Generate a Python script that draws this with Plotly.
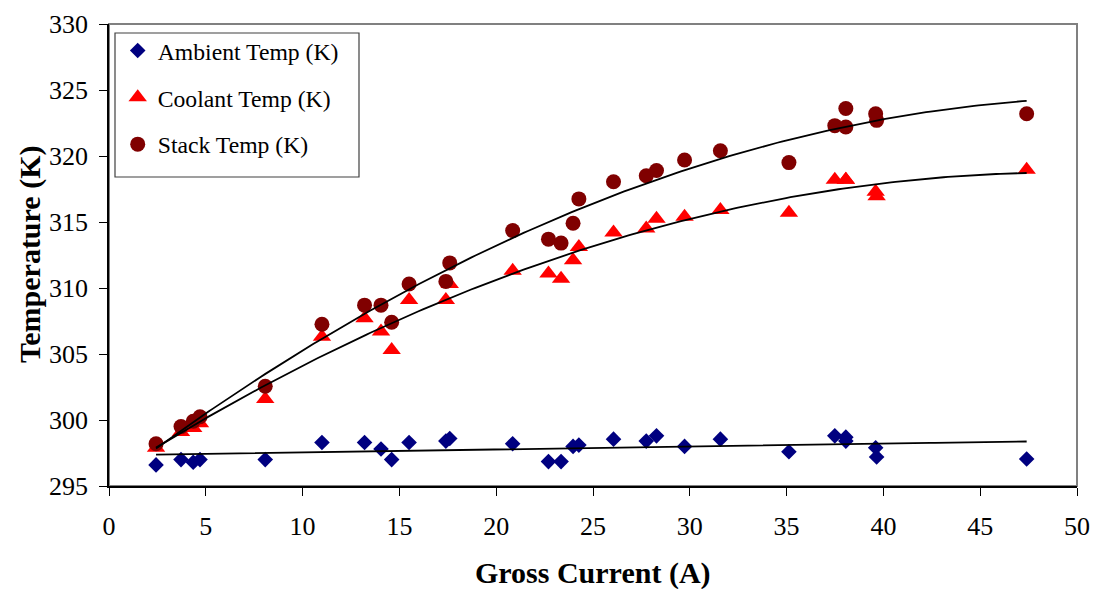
import numpy as np
import plotly.graph_objects as go

# Gross stack current (A) for each logged operating point
current = [2.43, 3.72, 4.35, 4.7, 8.07, 11.0, 13.2, 14.05, 14.6, 15.5, 17.4, 17.6,
           20.85, 22.7, 23.35, 23.97, 24.27, 26.06, 27.75, 28.28, 29.73, 31.58,
           35.12, 37.49, 38.06, 38.06, 39.6, 39.65, 47.4]

# Measured temperatures (K)
ambient_temp = [296.6, 297.0, 296.8, 297.0, 297.0, 298.3, 298.3, 297.8, 297.0, 298.3,
                298.4, 298.6, 298.2, 296.85, 296.85, 298.0, 298.1, 298.55, 298.4,
                298.8, 298.0, 298.55, 297.6, 298.8, 298.7, 298.4, 297.9, 297.2, 297.05]
coolant_temp = [297.9, 299.1, 299.4, 299.75, 301.6, 306.3, 307.7, 306.7, 305.3, 309.1,
                309.1, 310.3, 311.3, 311.1, 310.7, 312.1, 313.1, 314.2, 314.5,
                315.25, 315.4, 315.9, 315.7, 318.2, 318.2, 318.2, 317.3, 316.95, 318.95]
stack_temp = [298.2, 299.5, 299.9, 300.25, 302.56, 307.25, 308.7, 308.7, 307.4, 310.3,
              310.5, 311.9, 314.35, 313.7, 313.4, 314.9, 316.75, 318.05, 318.5,
              318.9, 319.7, 320.4, 319.5, 322.3, 323.6, 322.2, 323.2, 322.7, 323.2]

x_ticks = list(range(0, 51, 5))
y_ticks = list(range(295, 331, 5))

FONT = "Liberation Serif, Times New Roman, serif"

# name, values, marker symbol, colour, marker size, trendline order
series = [
    ("Ambient Temp (K)", ambient_temp, "diamond", "#000080", 12, 1),
    ("Coolant Temp (K)", coolant_temp, "triangle-up", "#FF0000", 16, 2),
    ("Stack Temp (K)", stack_temp, "circle", "#800000", 15, 2),
]

fig = go.Figure()

for i, (name, vals, sym, col, size, _) in enumerate(series):
    fig.add_trace(go.Scatter(
        x=current, y=vals, mode="markers", name=name,
        legendgroup=f"g{i}",
        marker=dict(symbol=sym, color=col, size=size, line=dict(width=0)),
    ))

# Polynomial trendlines through each series
xs = np.linspace(min(current), max(current), 200)
for name, vals, _, _, _, order in series:
    coef = np.polyfit(current, vals, order)
    fig.add_trace(go.Scatter(
        x=xs, y=np.polyval(coef, xs), mode="lines", showlegend=False,
        line=dict(color="black", width=1.8), hoverinfo="skip",
    ))

axis_common = dict(
    showgrid=False, zeroline=False, showline=True, linecolor="black", linewidth=1.5,
    ticks="outside", ticklen=8, tickcolor="black", tickwidth=1, automargin=False,
    tickfont=dict(family=FONT, size=26, color="black"),
)

fig.update_xaxes(range=[0, 50], tickvals=x_ticks, ticklabelstandoff=8, **axis_common)
fig.update_yaxes(range=[295, 330], tickvals=y_ticks, ticklabelstandoff=6, **axis_common)

# Plot-area frame and legend box
PW, PH = 1094 - 109 - 17, 589 - 24 - 103
fig.add_shape(type="rect", xref="paper", yref="paper", x0=0, y0=0, x1=1, y1=1,
              line=dict(color="#808080", width=2), layer="below")
fig.add_shape(type="rect", xref="paper", yref="paper",
              x0=6 / PW, x1=250 / PW, y0=(486 - 177) / PH, y1=(486 - 33) / PH,
              line=dict(color="#404040", width=1.2), fillcolor="white", layer="below")

fig.add_annotation(text="<b>Gross Current (A)</b>", xref="paper", yref="paper",
                   x=0.5, y=0, yshift=-87, xanchor="center", yanchor="middle",
                   showarrow=False, font=dict(family=FONT, size=30, color="black"))
fig.add_annotation(text="<b>Temperature (K)</b>", xref="paper", yref="paper",
                   x=0, y=0.5, xshift=-79, xanchor="center", yanchor="middle",
                   textangle=-90, showarrow=False,
                   font=dict(family=FONT, size=30, color="black"))

fig.update_layout(
    width=1094, height=589,
    margin=dict(l=109, r=17, t=24, b=103),
    paper_bgcolor="white", plot_bgcolor="white",
    showlegend=True,
    legend=dict(x=0.009, y=0.99, xanchor="left", yanchor="top",
                bgcolor="rgba(0,0,0,0)", borderwidth=0,
                font=dict(family=FONT, size=23.7, color="black"),
                tracegroupgap=13, itemwidth=30),
)

fig.write_html("out.html")
